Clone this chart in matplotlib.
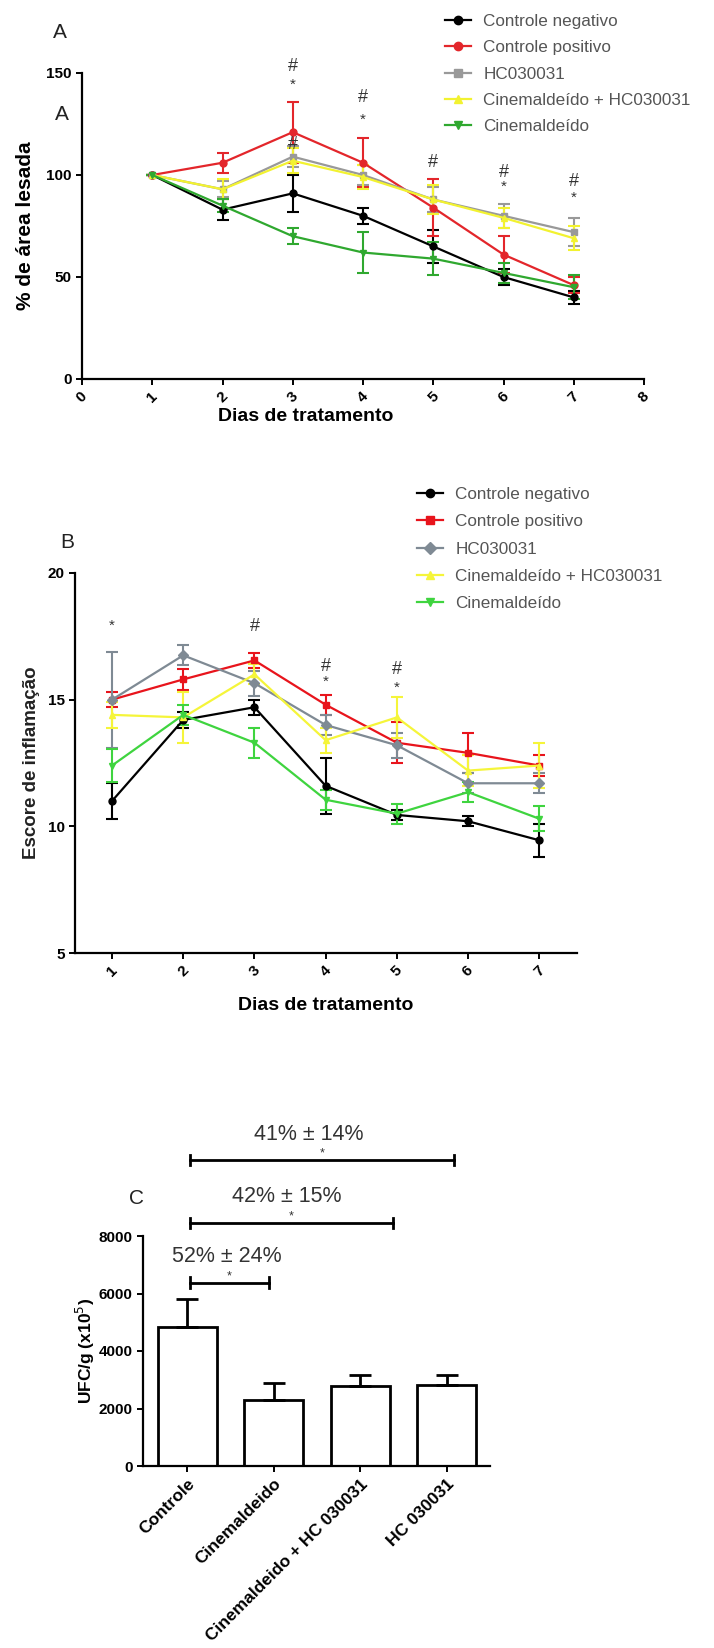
import matplotlib
matplotlib.use('Agg')
import matplotlib.pyplot as plt
from matplotlib.lines import Line2D

plt.rcParams['font.family'] = ['Liberation Sans', 'DejaVu Sans']

# ---------------- data: panel A (% de area lesada) ----------------
days_a = [1, 2, 3, 4, 5, 6, 7]
neg_a = [100, 83, 91, 80, 65, 50, 40]
neg_a_err = [0, 5, 9, 4, 8, 4, 3]
pos_a = [100, 106, 121, 106, 84, 61, 46]
pos_a_err = [0, 5, 15, 12, 14, 9, 4]
hc_a = [100, 93, 109, 100, 88, 80, 72]
hc_a_err = [0, 4, 5, 5, 6, 6, 7]
cinhc_a = [100, 93, 107, 99, 88, 79, 69]
cinhc_a_err = [0, 5, 6, 6, 7, 5, 6]
cin_a = [100, 85, 70, 62, 59, 52, 45]
cin_a_err = [0, 3, 4, 10, 8, 5, 6]
# significance marks (day, y, symbol)
marks_a = [(3, 153, '#'), (3, 144, '*'), (3, 115, '#'), (4, 138, '#'), (4, 127, '*'),
           (5, 106, '#'), (6, 101, '#'), (6, 94, '*'), (7, 97, '#'), (7, 89, '*')]

# ---------------- data: panel B (escore de inflamacao) ----------------
days_b = [1, 2, 3, 4, 5, 6, 7]
neg_b = [11.0, 14.2, 14.7, 11.6, 10.45, 10.2, 9.45]
neg_b_err = [0.7, 0.3, 0.3, 1.1, 0.2, 0.2, 0.65]
pos_b = [15.0, 15.8, 16.55, 14.8, 13.3, 12.9, 12.4]
pos_b_err = [0.3, 0.4, 0.3, 0.4, 0.8, 0.8, 0.4]
hc_b = [15.0, 16.75, 15.65, 14.0, 13.2, 11.7, 11.7]
hc_b_err = [1.9, 0.4, 0.5, 0.4, 0.5, 0.4, 0.4]
cinhc_b = [14.4, 14.3, 16.0, 13.4, 14.3, 12.2, 12.4]
cinhc_b_err = [0.5, 1.0, 0.4, 0.5, 0.8, 0.6, 0.9]
cin_b = [12.4, 14.4, 13.3, 11.05, 10.5, 11.35, 10.3]
cin_b_err = [0.65, 0.4, 0.6, 0.4, 0.4, 0.4, 0.5]
marks_b = [(1, 17.9, '*'), (3, 17.9, '#'), (4, 16.3, '#'), (4, 15.7, '*'),
           (5, 16.2, '#'), (5, 15.45, '*')]

labels = ['Controle negativo', 'Controle positivo', 'HC030031',
          'Cinemaldeído + HC030031', 'Cinemaldeído']

# ---------------- data: panel C (UFC/g) ----------------
groups_c = ['Controle', 'Cinemaldeido', 'Cinemaldeido + HC 030031', 'HC 030031']
ufc = [4820, 2310, 2800, 2830]
ufc_err = [1000, 580, 380, 350]
bracket_text = ['52% ± 24%', '42% ± 15%', '41% ± 14%']
bracket_level = [6380, 8460, 10640]

W, H = 714, 1648
fig = plt.figure(figsize=(W / 100, H / 100), dpi=100)


def px_axes(x0, x1, ytop, ybot):
    return fig.add_axes([x0 / W, 1 - ybot / H, (x1 - x0) / W, (ybot - ytop) / H])


def style_axes(ax):
    for s in ['top', 'right']:
        ax.spines[s].set_visible(False)
    for s in ['left', 'bottom']:
        ax.spines[s].set_linewidth(1.6)
    ax.tick_params(width=1.4, length=4, labelsize=11)
    for t in ax.get_xticklabels() + ax.get_yticklabels():
        t.set_fontweight('bold')


def line_panel(ax, days, series, colors, markers):
    for (y, e), c, m in zip(series, colors, markers):
        ax.errorbar(days, y, yerr=e, color=c, marker=m, markersize=5, lw=1.6,
                    elinewidth=1.5, capsize=4, capthick=1.5, clip_on=False)


def add_legend(ax, colors, markers, x_px, y_px, spacing):
    handles = [Line2D([], [], color=c, marker=m, markersize=6, lw=1.6)
               for c, m in zip(colors, markers)]
    ax.legend(handles, labels, loc='upper left', frameon=False,
              bbox_to_anchor=(x_px / W, 1 - y_px / H), bbox_transform=fig.transFigure,
              fontsize=12.3, labelcolor='#555555', borderpad=0, handlelength=1.5,
              handletextpad=0.75, labelspacing=spacing, borderaxespad=0)


# ---------------- Panel A ----------------
colors_a = ['#000000', '#e3262b', '#999999', '#f2f230', '#2fa82f']
markers_a = ['o', 'o', 's', '^', 'v']
axA = px_axes(82, 644, 73, 379)
line_panel(axA, days_a,
           [(neg_a, neg_a_err), (pos_a, pos_a_err), (hc_a, hc_a_err),
            (cinhc_a, cinhc_a_err), (cin_a, cin_a_err)], colors_a, markers_a)
axA.set_xlim(0, 8)
axA.set_ylim(0, 150)
axA.set_xticks(range(0, 9))
axA.set_yticks([0, 50, 100, 150])
style_axes(axA)
for t in axA.get_xticklabels():
    t.set_rotation(45)
axA.set_xlabel('Dias de tratamento', fontsize=14, fontweight='bold')
axA.xaxis.set_label_coords((306 - 82) / (644 - 82), -0.095)
axA.set_ylabel('% de área lesada', fontsize=15, fontweight='bold')
axA.yaxis.set_label_coords(-0.084, 0.5)
for d, y, s in marks_a:
    axA.text(d, y, s, ha='center', va='center', fontsize=13 if s == '#' else 11,
             color='#333333')
add_legend(axA, colors_a, markers_a, 445, 14, 0.66)
fig.text(60 / W, 1 - 33 / H, 'A', fontsize=15, ha='center', va='center', color='#222222')
fig.text(62 / W, 1 - 115 / H, 'A', fontsize=15, ha='center', va='center', color='#222222')

# ---------------- Panel B ----------------
colors_b = ['#000000', '#e8141c', '#7f8a94', '#f5f53a', '#3fd43f']
markers_b = ['o', 's', 'D', '^', 'v']
axB = px_axes(75, 577, 573, 953)
line_panel(axB, days_b,
           [(neg_b, neg_b_err), (pos_b, pos_b_err), (hc_b, hc_b_err),
            (cinhc_b, cinhc_b_err), (cin_b, cin_b_err)], colors_b, markers_b)
axB.set_xlim(0.48, 7.53)
axB.set_ylim(5, 20)
axB.set_xticks(days_b)
axB.set_yticks([5, 10, 15, 20])
style_axes(axB)
for t in axB.get_xticklabels():
    t.set_rotation(45)
axB.set_xlabel('Dias de tratamento', fontsize=14, fontweight='bold')
axB.xaxis.set_label_coords(0.5, -0.115)
axB.set_ylabel('Escore de inflamação', fontsize=13.5, fontweight='bold', color='#222222')
axB.yaxis.set_label_coords(-0.07, 0.5)
for d, y, s in marks_b:
    axB.text(d, y, s, ha='center', va='center', fontsize=13 if s == '#' else 11,
             color='#333333')
add_legend(axB, colors_b, markers_b, 417, 487, 0.72)
fig.text(67 / W, 1 - 542 / H, 'B', fontsize=15, ha='center', va='center', color='#222222')

# ---------------- Panel C ----------------
axC = px_axes(143, 490, 1236, 1466)
xc = range(len(groups_c))
axC.bar(xc, ufc, width=0.68, color='white', edgecolor='black', linewidth=2)
axC.errorbar(xc, ufc, yerr=[[0] * len(ufc), ufc_err], fmt='none', ecolor='black',
             elinewidth=2, capsize=8, capthick=2)
axC.set_xlim(-0.51, 3.5)
axC.set_ylim(0, 8000)
axC.set_yticks([0, 2000, 4000, 6000, 8000])
axC.set_xticks(list(xc))
axC.set_xticklabels(groups_c)
style_axes(axC)
for t in axC.get_xticklabels():
    t.set_rotation(45)
    t.set_ha('right')
    t.set_rotation_mode('anchor')
    t.set_fontsize(12.5)
axC.set_ylabel('UFC/g (x10$^5$)', fontsize=12.5, fontweight='bold')
axC.yaxis.set_label_coords(-0.133, 0.5)

ends = [0.95, 2.38, 3.08]
text_x = [0.46, 1.15, 1.41]
for txt, lvl, x1, tx in zip(bracket_text, bracket_level, ends, text_x):
    x0 = 0.03
    axC.plot([x0, x1], [lvl, lvl], color='black', lw=2, clip_on=False)
    for xe in (x0, x1):
        axC.plot([xe, xe], [lvl - 180, lvl + 180], color='black', lw=2, clip_on=False)
    axC.text((x0 + x1) / 2, lvl + 230, '*', ha='center', va='center', fontsize=9,
             color='#333333')
    axC.text(tx, lvl + 900, txt, ha='center', va='center', fontsize=15.5,
             color='#333333')
fig.text(137 / W, 1 - 1198 / H, 'C', fontsize=15, ha='center', va='center', color='#222222')

fig.savefig('out.png', dpi=100, facecolor='white')
